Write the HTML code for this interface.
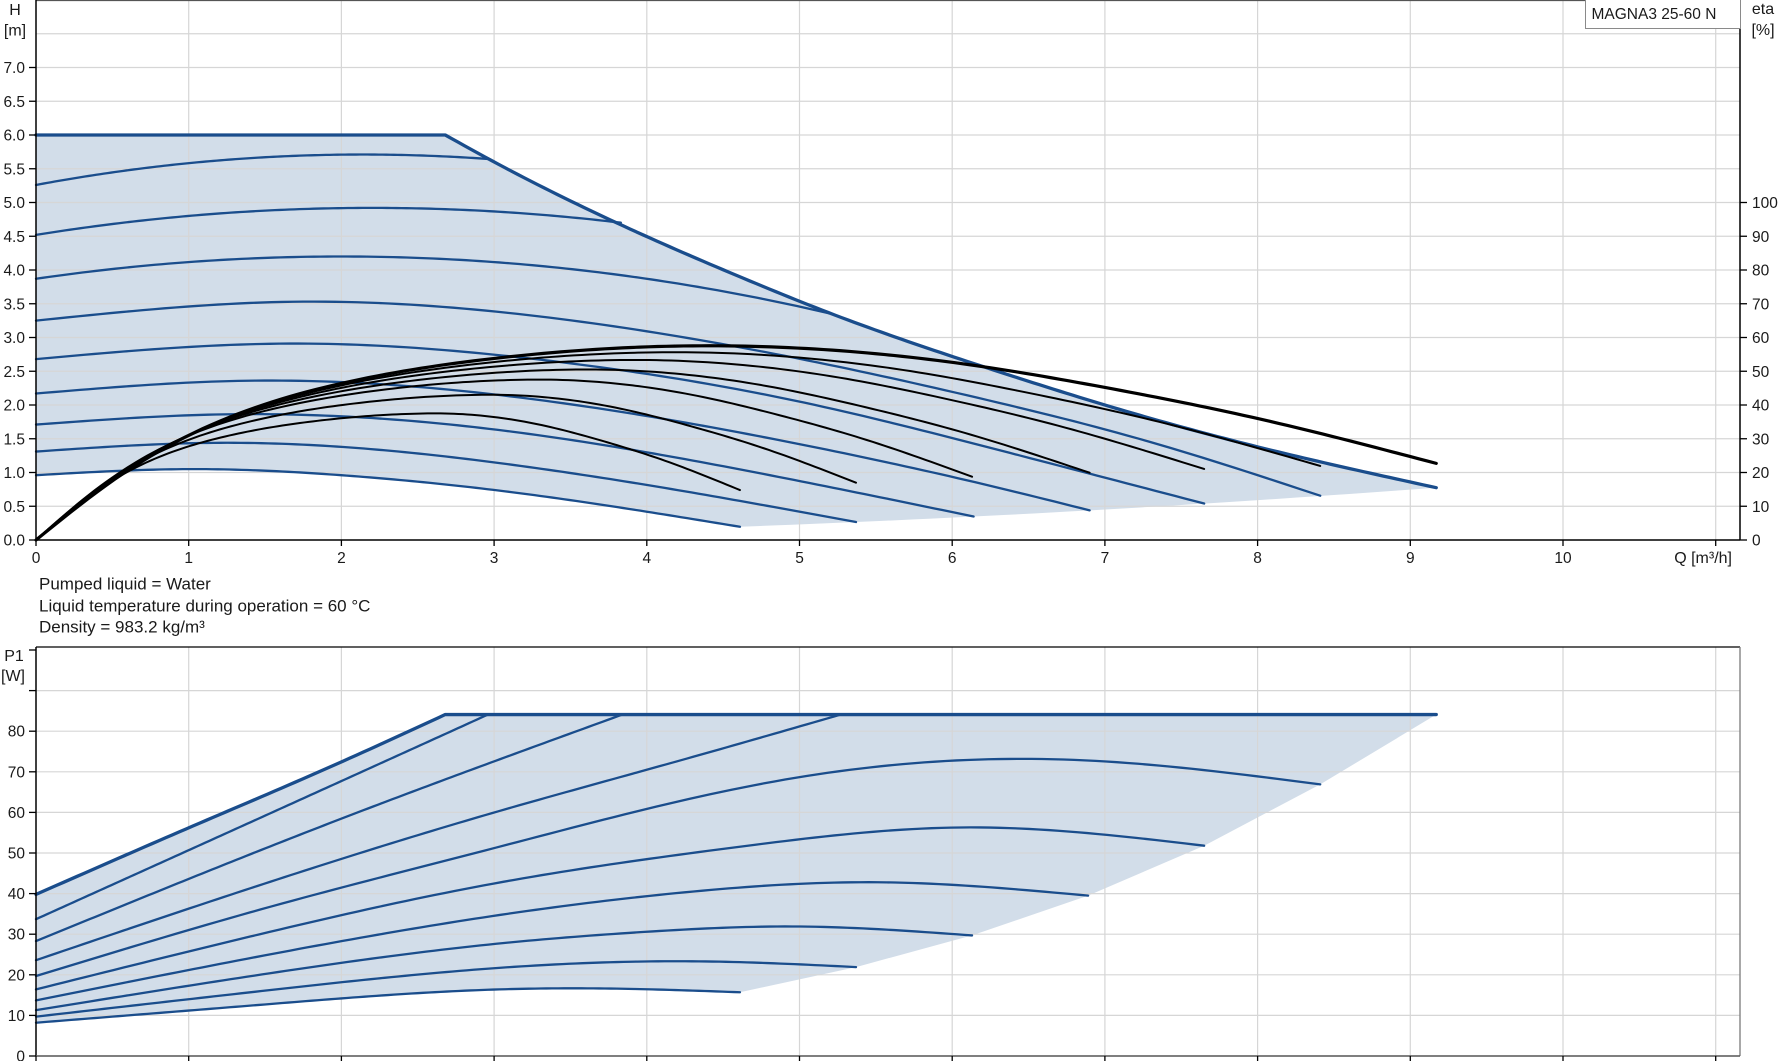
<!DOCTYPE html>
<html>
<head>
<meta charset="utf-8">
<style>
html,body{margin:0;padding:0;background:#fff;}
svg{display:block;font-family:"Liberation Sans",Arial,sans-serif;}
</style>
</head>
<body>
<svg id="c" width="1780" height="1061" viewBox="0 0 1780 1061" xmlns="http://www.w3.org/2000/svg">
<rect x="0" y="0" width="1780" height="1061" fill="#ffffff"/>
<g id="fills"></g>
<g id="grid" stroke="#d6d6d6" stroke-width="1.2" fill="none"></g>
<g id="curves" fill="none" stroke-linejoin="round" stroke-linecap="round"></g>
<g id="axes" fill="none"></g>

<!-- Legend box -->
<rect x="1585.5" y="-1" width="155" height="29.5" fill="#ffffff" stroke="#8a8a8a" stroke-width="1"/>
<text x="1591.5" y="19" font-size="15.5" fill="#1a1a1a">MAGNA3 25-60 N</text>

<!-- Axis titles -->
<g fill="#1a1a1a" font-size="16">
<text x="15" y="15" text-anchor="middle">H</text>
<text x="15" y="35.5" text-anchor="middle">[m]</text>
<text x="1763" y="14" text-anchor="middle">eta</text>
<text x="1763" y="35" text-anchor="middle">[%]</text>
<text x="1732" y="563" text-anchor="end">Q [m³/h]</text>
<text x="14" y="661" text-anchor="middle">P1</text>
<text x="13" y="681" text-anchor="middle">[W]</text>
</g>

<!-- Info text -->
<g fill="#1a1a1a" font-size="17">
<text x="39" y="589.5">Pumped liquid = Water</text>
<text x="39" y="611.5">Liquid temperature during operation = 60 °C</text>
<text x="39" y="632.5">Density = 983.2 kg/m³</text>
</g>

<!-- Left H tick labels -->
<g fill="#1a1a1a" font-size="15.5" text-anchor="end">
<text x="25" y="545.5">0.0</text>
<text x="25" y="511.75">0.5</text>
<text x="25" y="478">1.0</text>
<text x="25" y="444.25">1.5</text>
<text x="25" y="410.5">2.0</text>
<text x="25" y="376.75">2.5</text>
<text x="25" y="343">3.0</text>
<text x="25" y="309.25">3.5</text>
<text x="25" y="275.5">4.0</text>
<text x="25" y="241.75">4.5</text>
<text x="25" y="208">5.0</text>
<text x="25" y="174.25">5.5</text>
<text x="25" y="140.5">6.0</text>
<text x="25" y="106.75">6.5</text>
<text x="25" y="73">7.0</text>
</g>

<!-- Right eta tick labels -->
<g fill="#1a1a1a" font-size="15.5" text-anchor="start">
<text x="1752" y="545.5">0</text>
<text x="1752" y="511.75">10</text>
<text x="1752" y="478">20</text>
<text x="1752" y="444.25">30</text>
<text x="1752" y="410.5">40</text>
<text x="1752" y="376.75">50</text>
<text x="1752" y="343">60</text>
<text x="1752" y="309.25">70</text>
<text x="1752" y="275.5">80</text>
<text x="1752" y="241.75">90</text>
<text x="1752" y="208">100</text>
</g>

<!-- X tick labels -->
<g fill="#1a1a1a" font-size="15.5" text-anchor="middle">
<text x="36" y="563">0</text>
<text x="188.7" y="563">1</text>
<text x="341.4" y="563">2</text>
<text x="494.1" y="563">3</text>
<text x="646.8" y="563">4</text>
<text x="799.5" y="563">5</text>
<text x="952.2" y="563">6</text>
<text x="1104.9" y="563">7</text>
<text x="1257.6" y="563">8</text>
<text x="1410.3" y="563">9</text>
<text x="1563" y="563">10</text>
</g>

<!-- P1 tick labels -->
<g fill="#1a1a1a" font-size="15.5" text-anchor="end">
<text x="25" y="1061.5">0</text>
<text x="25" y="1020.9">10</text>
<text x="25" y="980.3">20</text>
<text x="25" y="939.7">30</text>
<text x="25" y="899.1">40</text>
<text x="25" y="858.5">50</text>
<text x="25" y="817.9">60</text>
<text x="25" y="777.3">70</text>
<text x="25" y="736.7">80</text>
</g>
</svg>

<script>
(function(){
const NS="http://www.w3.org/2000/svg";
const X=q=>36+152.7*q, YH=h=>540-67.5*h, YE=e=>540-3.375*e, YP=p=>1056-4.06*p;
const BLUE="#1a4d8c", FILL="#d2dde9";
/* natural cubic spline */
function spl(pts){
  const n=pts.length, x=pts.map(p=>p[0]), y=pts.map(p=>p[1]);
  const h=[]; for(let i=0;i<n-1;i++) h[i]=x[i+1]-x[i];
  const M=new Array(n).fill(0);
  if(n>2){
    const a=[],b=[],c=[],r=[];
    for(let i=1;i<n-1;i++){
      a.push(h[i-1]); b.push(2*(h[i-1]+h[i])); c.push(h[i]);
      r.push(6*((y[i+1]-y[i])/h[i]-(y[i]-y[i-1])/h[i-1]));
    }
    const m=b.length;
    for(let i=1;i<m;i++){const w=a[i]/b[i-1]; b[i]-=w*c[i-1]; r[i]-=w*r[i-1];}
    const s=new Array(m);
    s[m-1]=r[m-1]/b[m-1];
    for(let i=m-2;i>=0;i--) s[i]=(r[i]-c[i]*s[i+1])/b[i];
    for(let i=0;i<m;i++) M[i+1]=s[i];
  }
  return q=>{
    let i=0; while(i<n-2 && q>x[i+1]) i++;
    const hh=h[i], A=x[i+1]-q, B=q-x[i];
    return M[i]*A*A*A/(6*hh)+M[i+1]*B*B*B/(6*hh)+(y[i]/hh-M[i]*hh/6)*A+(y[i+1]/hh-M[i+1]*hh/6)*B;
  };
}
function sample(f,a,b,n,fy){const r=[];for(let k=0;k<=n;k++){const q=a+(b-a)*k/n;r.push([X(q),fy(f(q))]);}return r;}
function d(pts){return "M"+pts.map(p=>p[0].toFixed(2)+","+p[1].toFixed(2)).join("L");}
function add(g,tag,attrs){const e=document.createElementNS(NS,tag);for(const k in attrs)e.setAttribute(k,attrs[k]);document.getElementById(g).appendChild(e);return e;}
function line(g,x1,y1,x2,y2,st,w){add(g,"line",{x1:x1,y1:y1,x2:x2,y2:y2,stroke:st||"#000","stroke-width":w||1.3});}

/* ---------- GRID ---------- */
for(let k=1;k<=15;k++){const y=540-33.75*k; add("grid","line",{x1:36,y1:y,x2:1740,y2:y});}
for(let q=1;q<=11;q++){add("grid","line",{x1:X(q),y1:0,x2:X(q),y2:540});}
for(let k=1;k<=9;k++){const y=YP(10*k); add("grid","line",{x1:36,y1:y,x2:1740,y2:y});}
for(let q=1;q<=11;q++){add("grid","line",{x1:X(q),y1:647,x2:X(q),y2:1056});}

/* ---------- TOP: H curves ---------- */
const maxH=spl([[2.68,6],[2.96,5.65],[3.83,4.67],[4.63,3.88],[5.2,3.36],[6.31,2.49],[7.0,2.0],[8.0,1.38],[9.17,0.775]]);
const c1=q=>5.26+0.421*q-0.0983*q*q;
const c2=q=>4.52+0.3636*q-0.0826*q*q;
const c3=q=>3.87+0.33*q-0.0825*q*q;
const c4=spl([[0,3.25],[1.7,3.53],[3.23,3.33],[4.55,2.88],[6.18,2.1],[7.3,1.45],[8.41,0.656]]);
const c5=spl([[0,2.68],[1.66,2.91],[3.23,2.69],[5,2.05],[6.31,1.33],[7.65,0.54]]);
const c6=spl([[0,2.17],[1.4,2.36],[3.1,2.13],[5,1.42],[6.31,0.77],[6.9,0.439]]);
const c7=spl([[0,1.71],[1.2,1.86],[3.1,1.61],[4.6,1.05],[6.14,0.348]]);
const c8=spl([[0,1.31],[1.2,1.44],[3.1,1.12],[4.2,0.74],[5.37,0.266]]);
const c9=spl([[0,0.96],[1,1.05],[2,0.96],[3.04,0.73],[4.61,0.196]]);

// fill top
let fp=[[X(0),YH(6)],[X(2.68),YH(6)]];
fp=fp.concat(sample(maxH,2.68,9.17,120,YH));
fp=fp.concat(sample(q=>0.00922*q*q,9.17,4.61,40,YH));
fp=fp.concat(sample(c9,4.61,0,80,YH));
add("fills","path",{d:d(fp)+"Z",fill:FILL,stroke:"none"});

// fill bottom (P1)
const maxP=spl([[0,39.8],[1,56.2],[1.95,71.6],[2.68,84.1]]);
const p1=spl([[0,33.7],[1.5,59.2],[2.96,84.1]]);
const p2=spl([[0,28.3],[1.92,57.3],[3.84,84.1]]);
const p3=spl([[0,23.6],[1.5,42.5],[3.03,60.3],[4.2,72.6],[5.27,84.1]]);
const p4=spl([[0,19.7],[1.5,36.4],[3.03,51.5],[4.97,68.5],[6.75,73],[8.41,66.9]]);
const p5=spl([[0,16.4],[1.5,30.3],[3.03,42.7],[4.6,51.5],[6.1,56.3],[7.65,51.8]]);
const p6=spl([[0,13.7],[1.5,24.8],[3.03,34.7],[4.3,40.5],[5.49,42.8],[6.89,39.5]]);
const p7=spl([[0,11.3],[1.5,20.2],[3.03,27.7],[4.0,30.6],[4.97,31.9],[6.13,29.7]]);
const p8=spl([[0,9.7],[1.5,16.1],[3.03,21.7],[4.37,23.3],[5.37,21.9]]);
const p9=spl([[0,8.2],[1.5,12.7],[3.03,16.4],[3.78,16.6],[4.61,15.7]]);
let pp=sample(maxP,0,2.68,40,YP);
pp.push([X(9.17),YP(84.1)]);
[[8.41,66.9],[7.65,51.8],[6.89,39.5],[6.13,29.7],[5.37,21.9],[4.61,15.7]].forEach(e=>pp.push([X(e[0]),YP(e[1])]));
pp=pp.concat(sample(p9,4.61,0,60,YP));
add("fills","path",{d:d(pp)+"Z",fill:FILL,stroke:"none"});

// blue H curves
const thin=2.3, thick=3.3;
[[c1,2.96],[c2,3.83],[c3,5.2],[c4,8.41],[c5,7.65],[c6,6.9],[c7,6.14],[c8,5.37],[c9,4.61]].forEach(c=>{
  add("curves","path",{d:d(sample(c[0],0,c[1],120,YH)),stroke:BLUE,"stroke-width":thin});
});
let mh=[[X(0),YH(6)]].concat(sample(maxH,2.68,9.17,150,YH));
add("curves","path",{d:d(mh),stroke:BLUE,"stroke-width":thick});

// eta curves
const E=spl([[0,0],[0.5,17.5],[1,31],[2,46.4],[3.04,54],[4.25,57.5],[5.2,56.3],[6.18,51.5],[7,45.2],[8,36],[9.17,22.7]]);
const QPM=4.25, QEM=9.17;
[[4.61,2.55,0.652],[5.37,2.9,0.748],[6.13,3.2,0.826],[6.9,3.5,0.878],[7.65,3.8,0.927],[8.41,4.05,0.967]].forEach(e=>{
  const Qe=e[0],Qp=e[1],k=e[2];
  const f=Q=>{
    const q = Q<=Qp ? Q*QPM/Qp : QPM+(Q-Qp)*(QEM-QPM)/(Qe-Qp);
    return k*E(q);
  };
  add("curves","path",{d:d(sample(f,0,Qe,160,YE)),stroke:"#000","stroke-width":2});
});
add("curves","path",{d:d(sample(E,0,9.17,160,YE)),stroke:"#000","stroke-width":3.2});

// P1 curves
[[p1,2.96],[p2,3.84],[p3,5.27],[p4,8.41],[p5,7.65],[p6,6.89],[p7,6.13],[p8,5.37],[p9,4.61]].forEach(c=>{
  add("curves","path",{d:d(sample(c[0],0,c[1],120,YP)),stroke:BLUE,"stroke-width":thin});
});
let mp=sample(maxP,0,2.68,60,YP); mp.push([X(9.17),YP(84.1)]);
add("curves","path",{d:d(mp),stroke:BLUE,"stroke-width":thick});

/* ---------- AXES ---------- */
line("axes",36,0.5,1740,0.5,"#555",1.2);
line("axes",36,0,36,540,"#000",1.5);
line("axes",1740,0,1740,540,"#000",1.5);
line("axes",36,540,1740,540,"#000",1.5);
for(let k=0;k<=14;k++){const y=540-33.75*k; line("axes",29,y,36,y,"#000",1.3);}
for(let k=0;k<=10;k++){const y=YE(10*k); line("axes",1740,y,1747,y,"#000",1.3);}
for(let q=0;q<=11;q++){line("axes",X(q),540,X(q),546,"#000",1.3);}

line("axes",36,647,1740,647,"#000",1.3);
line("axes",36,647,36,1056,"#000",1.5);
line("axes",1740,647,1740,1056,"#7a7a7a",1.3);
line("axes",36,1056,1740,1056,"#555",1.5);
for(let k=0;k<=10;k++){const y=YP(10*k); line("axes",29,y,36,y,"#000",1.3);}
for(let q=0;q<=11;q++){line("axes",X(q),1056,X(q),1061,"#000",1.3);}
})();
</script>
</body>
</html>
